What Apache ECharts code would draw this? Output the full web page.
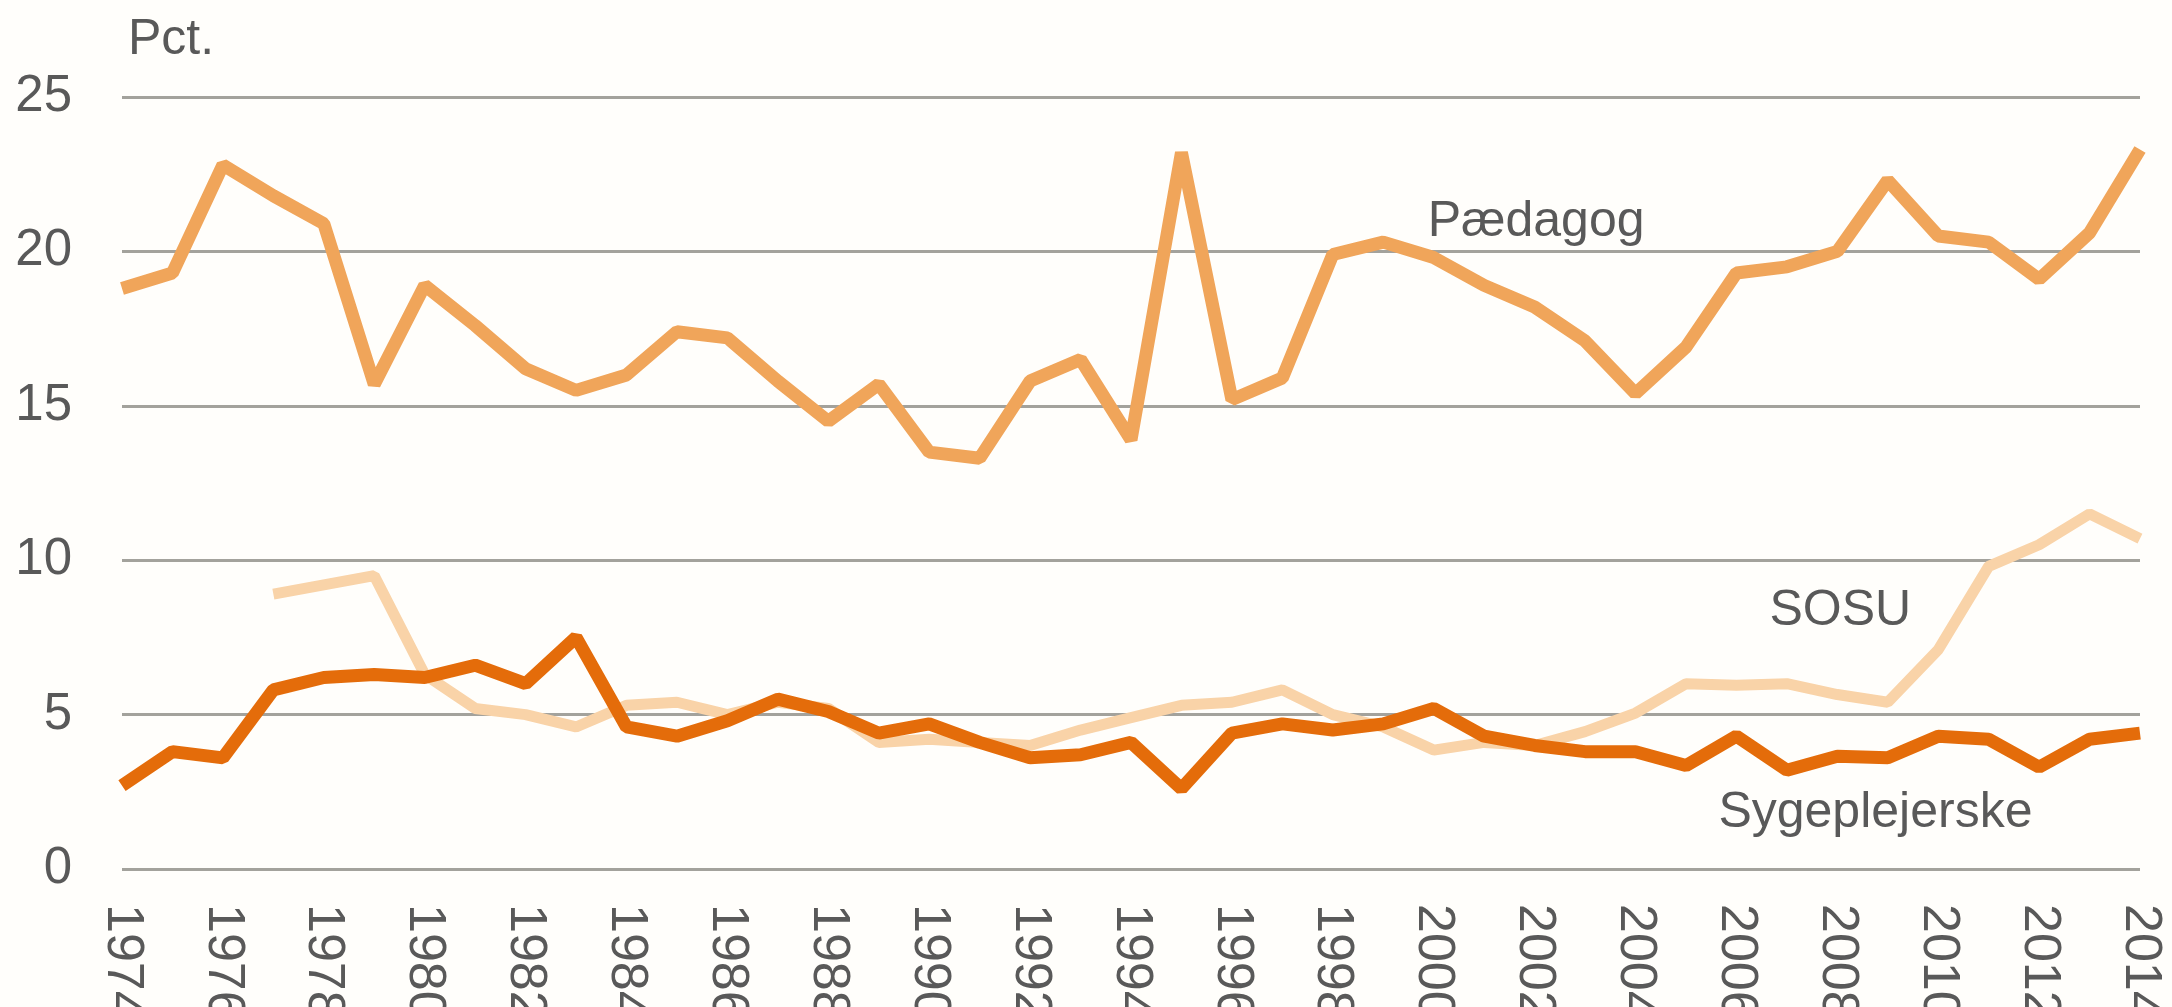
<!DOCTYPE html>
<html>
<head>
    <meta charset="utf-8"/>
    <title>Pct.</title>
    <script src="https://cdn.jsdelivr.net/npm/echarts@6/dist/echarts.min.js"></script>
    <style>
        html, body { margin: 0; padding: 0; background: #fffefb; }
    </style>
</head>
<body>
<div id="main" style="width: 2172px; height: 1007px"></div>
<script type="text/javascript">
    // år
    var years = ['1974', '1975', '1976', '1977', '1978', '1979', '1980', '1981', '1982', '1983',
        '1984', '1985', '1986', '1987', '1988', '1989', '1990', '1991', '1992', '1993',
        '1994', '1995', '1996', '1997', '1998', '1999', '2000', '2001', '2002', '2003',
        '2004', '2005', '2006', '2007', '2008', '2009', '2010', '2011', '2012', '2013', '2014'];

    var paedagog = [18.8, 19.3, 22.8, 21.8, 20.9, 15.7, 18.9, 17.6, 16.2, 15.5,
        16.0, 17.4, 17.2, 15.8, 14.5, 15.7, 13.5, 13.3, 15.8, 16.5,
        13.9, 23.2, 15.2, 15.9, 19.9, 20.3, 19.8, 18.9, 18.2, 17.1,
        15.4, 16.9, 19.3, 19.5, 20.0, 22.3, 20.5, 20.3, 19.1, 20.6, 23.3];

    var sosu = [null, null, null, 8.9, 9.2, 9.5, 6.3, 5.2, 5.0, 4.6,
        5.3, 5.4, 5.0, 5.4, 5.2, 4.1, 4.2, 4.1, 4.0, 4.5,
        4.9, 5.3, 5.4, 5.8, 5.0, 4.6, 3.85, 4.1, 4.0, 4.45,
        5.05, 6.0, 5.95, 6.0, 5.65, 5.4, 7.1, 9.8, 10.5, 11.5, 10.7];

    var sygeplejerske = [2.7, 3.8, 3.6, 5.8, 6.2, 6.3, 6.2, 6.6, 6.0, 7.5,
        4.6, 4.3, 4.8, 5.5, 5.1, 4.4, 4.7, 4.1, 3.6, 3.7,
        4.1, 2.6, 4.4, 4.7, 4.5, 4.7, 5.2, 4.3, 4.0, 3.8,
        3.8, 3.35, 4.3, 3.2, 3.65, 3.6, 4.3, 4.2, 3.3, 4.2, 4.4];

    var yTicks = [0, 5, 10, 15, 20, 25];

    var textColor = '#595959';
    var font = "'Liberation Sans', Arial, sans-serif";

    function seriesLabel(name, coord, position, offset) {
        return {
            symbol: 'circle',
            symbolSize: 0,
            silent: true,
            animation: false,
            data: [{coord: coord}],
            label: {
                show: true,
                position: position,
                distance: 0,
                offset: offset,
                formatter: name,
                color: textColor,
                fontFamily: font,
                fontSize: 50
            }
        };
    }

    var myChart = echarts.init(document.getElementById('main'));

    var option = {
        backgroundColor: '#fffefb',
        animation: false,
        grid: {
            left: 122,
            right: 32,
            top: 97,
            bottom: 138,
            outerBoundsMode: 'none',
            containLabel: false
        },
        xAxis: {
            type: 'category',
            boundaryGap: false,
            data: years,
            axisLine: {show: false},
            axisTick: {show: false},
            axisLabel: {
                interval: 1,
                rotate: -90,
                margin: 35,
                color: textColor,
                fontFamily: font,
                fontSize: 52
            }
        },
        yAxis: {
            type: 'value',
            min: yTicks[0],
            max: yTicks[yTicks.length - 1],
            interval: 5,
            name: 'Pct.',
            nameLocation: 'end',
            nameGap: 32,
            nameTextStyle: {
                align: 'left',
                padding: [0, 0, 0, 6],
                color: textColor,
                fontFamily: font,
                fontSize: 50
            },
            axisLine: {show: false},
            axisTick: {show: false},
            axisLabel: {
                margin: 50,
                color: textColor,
                fontFamily: font,
                fontSize: 51
            },
            splitLine: {
                lineStyle: {color: '#a3a29c', width: 3}
            }
        },
        series: [
            {
                name: 'SOSU',
                type: 'line',
                data: sosu,
                symbol: 'none',
                connectNulls: false,
                lineStyle: {color: '#f9d3a8', width: 11},
                itemStyle: {color: '#f9d3a8'},
                markPoint: seriesLabel('SOSU', ['2008', 8.35], 'inside', [3, 0])
            },
            {
                name: 'Pædagog',
                type: 'line',
                data: paedagog,
                symbol: 'none',
                lineStyle: {color: '#f0a55a', width: 13},
                itemStyle: {color: '#f0a55a'},
                markPoint: seriesLabel('Pædagog', ['2000', 20.95], 'right', [-6, 0])
            },
            {
                name: 'Sygeplejerske',
                type: 'line',
                data: sygeplejerske,
                symbol: 'none',
                lineStyle: {color: '#e46c0a', width: 13},
                itemStyle: {color: '#e46c0a'},
                markPoint: seriesLabel('Sygeplejerske', ['2006', 1.8], 'right', [-18, 0])
            }
        ]
    };

    myChart.setOption(option);
</script>
</body>
</html>
